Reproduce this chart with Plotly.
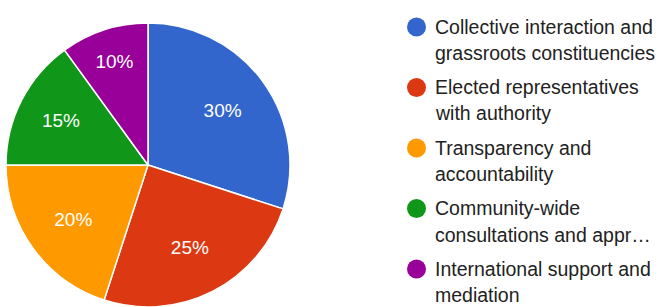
import plotly.graph_objects as go

categories = [
    "Collective interaction and grassroots constituencies",
    "Elected representatives with authority",
    "Transparency and accountability",
    "Community-wide consultations and appr…",
    "International support and mediation",
]
legend_lines = [
    ["Collective interaction and", "grassroots constituencies"],
    ["Elected representatives", "with authority"],
    ["Transparency and", "accountability"],
    ["Community-wide", "consultations and appr…"],
    ["International support and", "mediation"],
]
values = [30, 25, 20, 15, 10]
colors = ["#3366CC", "#DC3912", "#FF9900", "#109618", "#990099"]

W, H = 659, 307
FONT = "Arial, 'Liberation Sans', sans-serif"

# pie geometry (pixels)
cx, cy_top, r = 148, 165, 142
pie_domain = dict(x=[(cx - r) / W, (cx + r) / W],
                  y=[max(0, (H - cy_top - r) / H), (H - cy_top + r) / H])

fig = go.Figure()
# coloured slices
fig.add_trace(go.Pie(
    labels=categories,
    values=values,
    sort=False,
    direction="clockwise",
    rotation=0,
    marker=dict(colors=colors, line=dict(color="white", width=1.5)),
    textinfo="none",
    showlegend=False,
    hoverinfo="label+percent",
    domain=pie_domain,
))
# transparent ring carrying the percentage labels (places them further out)
fig.add_trace(go.Pie(
    labels=categories,
    values=values,
    sort=False,
    direction="clockwise",
    rotation=0,
    hole=0.3,
    marker=dict(colors=["rgba(0,0,0,0)"] * len(values), line=dict(width=0)),
    textinfo="percent",
    texttemplate="%{percent:.0%}",
    textposition="inside",
    insidetextorientation="horizontal",
    textfont=dict(color="white", size=19, family=FONT),
    showlegend=False,
    hoverinfo="skip",
    domain=pie_domain,
))

# legend drawn as circles + text (pixel layout)
first_mid = 26.5    # middle of first text line of first entry
entry_step = 60.5   # distance between entries
line_gap = 26.5     # distance between the two lines of an entry
circle_x = 416.5
circle_r = 9.5
text_x = 432.5

shapes = []
annotations = []
for i, (lines, col) in enumerate(zip(legend_lines, colors)):
    y0 = first_mid + i * entry_step
    shapes.append(dict(
        type="circle", xref="paper", yref="paper",
        x0=(circle_x - circle_r) / W, x1=(circle_x + circle_r) / W,
        y0=1 - (y0 + 0.5 + circle_r) / H, y1=1 - (y0 + 0.5 - circle_r) / H,
        fillcolor=col, line=dict(width=0),
    ))
    for j, t in enumerate(lines):
        annotations.append(dict(
            x=text_x / W, y=1 - (y0 + j * line_gap) / H,
            xref="paper", yref="paper",
            xanchor="left", yanchor="middle",
            text=t, showarrow=False,
            font=dict(size=19.5, color="#222222", family=FONT),
        ))

fig.update_layout(
    width=W, height=H,
    margin=dict(l=0, r=0, t=0, b=0),
    paper_bgcolor="white",
    plot_bgcolor="white",
    shapes=shapes,
    annotations=annotations,
)

fig.write_html("out.html",
               config={"displayModeBar": False},
               post_script="document.body.style.margin='0';document.body.style.overflow='hidden';")
